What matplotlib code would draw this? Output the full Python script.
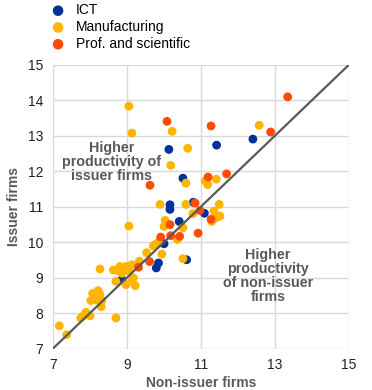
import matplotlib
matplotlib.use("Agg")
import matplotlib.pyplot as plt

plt.rcParams['font.family'] = ['Liberation Sans', 'DejaVu Sans']

# productivity (log) of non-issuer firms (x) vs issuer firms (y), by sector
ict_x = [12.40, 11.42, 10.13, 10.51, 10.16, 10.16, 10.79, 11.09, 10.41, 10.00,
         9.85, 9.79, 10.61, 8.86]
ict_y = [12.90, 12.73, 12.61, 11.80, 11.05, 10.92, 11.12, 10.81, 10.58, 9.95,
         9.41, 9.27, 9.50, 8.94]

manuf_x = [9.05, 9.13, 10.22, 12.57, 10.64, 10.18, 10.59, 11.11, 11.18, 11.41,
           9.05, 9.89, 10.59, 10.78, 11.49, 11.35, 11.51, 11.42, 11.29, 10.03,
           10.00, 10.51, 10.36, 9.76, 9.71, 9.85, 9.53, 9.94, 10.51, 9.33,
           9.13, 8.97, 8.81, 8.63, 8.27, 8.76, 9.04, 8.86, 8.70, 8.97,
           9.17, 9.13, 9.22, 8.07, 8.22, 8.27, 8.02, 8.18, 8.32, 8.30,
           7.89, 7.82, 8.00, 7.75, 8.70, 7.17, 7.37]
manuf_y = [13.83, 13.07, 13.12, 13.29, 12.64, 12.16, 11.66, 11.72, 11.62, 11.77,
           10.45, 11.06, 11.06, 10.80, 11.06, 10.87, 10.73, 10.69, 10.58, 10.61,
           10.44, 10.40, 10.07, 9.93, 9.89, 10.00, 9.70, 9.66, 9.53, 9.46,
           9.36, 9.31, 9.31, 9.21, 9.24, 9.19, 9.20, 9.12, 8.89, 8.80,
           8.99, 8.89, 8.77, 8.55, 8.63, 8.52, 8.35, 8.37, 8.35, 8.18,
           8.02, 7.92, 7.92, 7.86, 7.86, 7.64, 7.39]

prof_x = [13.34, 10.08, 11.27, 12.88, 11.69, 11.19, 9.62, 10.84, 10.97, 11.27,
          10.16, 10.42, 10.18, 9.91, 10.92, 9.61, 9.31]
prof_y = [14.09, 13.40, 13.27, 13.10, 11.92, 11.83, 11.60, 11.10, 10.89, 10.64,
          10.49, 10.16, 10.18, 10.14, 10.25, 9.45, 9.29]

series = [
    ("ICT", ict_x, ict_y, "#003299"),
    ("Manufacturing", manuf_x, manuf_y, "#ffb400"),
    ("Prof. and scientific", prof_x, prof_y, "#ff4b00"),
]

ticks_x = [7, 9, 11, 13, 15]
ticks_y = list(range(7, 16))

fig = plt.figure(figsize=(3.72, 3.90), dpi=100)
ax = fig.add_axes([0.1425, 0.1064, 0.796, 0.728])

for name, xs, ys, col in series:
    ax.scatter(xs, ys, s=40, color=col, edgecolors="none", label=name, zorder=3)

# 45 degree line
ax.plot([7, 15], [7, 15], color="#595959", lw=1.6, zorder=4)

ax.set_xlim(7, 15)
ax.set_ylim(7, 15)
ax.set_xticks(ticks_x)
ax.set_yticks(ticks_y)
ax.grid(True, color="#d9d9d9", lw=1.0, zorder=0)
ax.set_axisbelow(True)
for s in ax.spines.values():
    s.set_visible(False)
ax.tick_params(length=0, labelsize=10, colors="#222222", pad=7)

ax.set_xlabel("Non-issuer firms", fontsize=10, fontweight="bold", color="#595959", labelpad=3)
ax.set_ylabel("Issuer firms", fontsize=10, fontweight="bold", color="#595959", labelpad=5)

ax.text(8.59, 12.26, "Higher\nproductivity of\nissuer firms", ha="center", va="center",
        fontsize=10.3, fontweight="bold", color="#595959", linespacing=1.0, zorder=5)
ax.text(12.81, 9.03, "Higher\nproductivity\nof non-issuer\nfirms", ha="center", va="center",
        fontsize=10.3, fontweight="bold", color="#595959", linespacing=1.0, zorder=5)

fig.legend(loc="upper left", bbox_to_anchor=(0.115, 0.995), frameon=False, fontsize=10,
           handletextpad=0.3, labelspacing=0.2, borderaxespad=0, borderpad=0.1,
           markerscale=1.2)

fig.savefig("out.png", dpi=100)
